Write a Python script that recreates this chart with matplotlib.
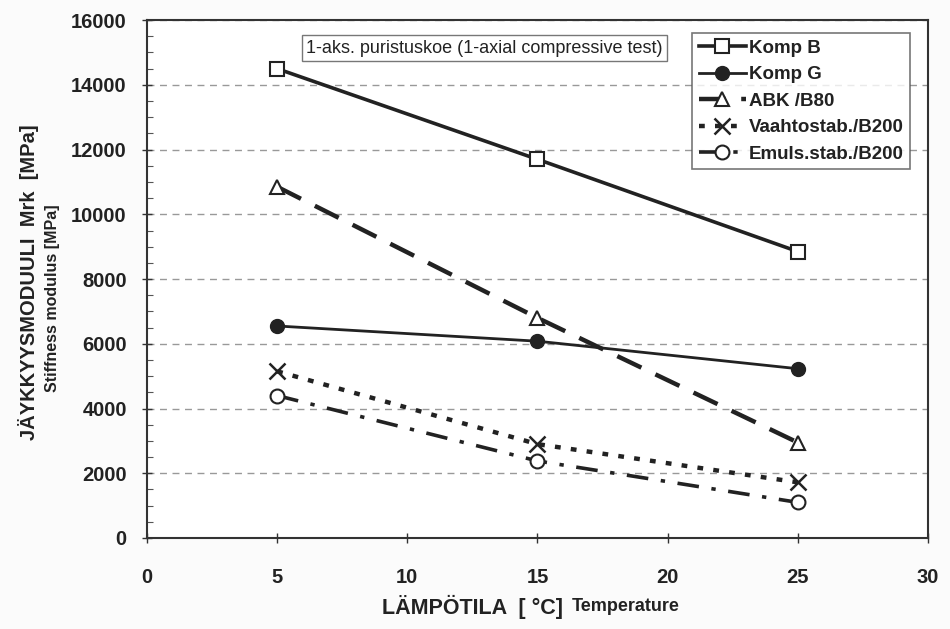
import numpy as np
import matplotlib
matplotlib.use('Agg')
import matplotlib.pyplot as plt
from matplotlib.ticker import MultipleLocator

plt.rcParams['font.family'] = ['Liberation Sans', 'DejaVu Sans']

# Data
temps = [5, 15, 25]
komp_b = [14500, 11700, 8850]
komp_g = [6550, 6080, 5230]
abk_b80 = [10850, 6800, 2950]
vaahto_b200 = [5150, 2900, 1720]
emuls_b200 = [4400, 2380, 1100]

labels = ['Komp B', 'Komp G', 'ABK /B80', 'Vaahtostab./B200', 'Emuls.stab./B200']

fig = plt.figure(figsize=(9.5, 6.29), dpi=100)
fig.patch.set_facecolor('#fbfbfb')
ax = fig.add_axes([0.1547, 0.1447, 0.9768 - 0.1547, 0.968 - 0.1447])
ax.set_facecolor('white')

col = '#222222'
ax.plot(temps, komp_b, color=col, lw=2.6, marker='s', ms=10, mfc='white',
        mec=col, mew=1.5, label=labels[0], zorder=5)
ax.plot(temps, komp_g, color=col, lw=2.0, marker='o', ms=10, mfc=col,
        mec=col, label=labels[1], zorder=5)
ax.plot(temps, abk_b80, color=col, lw=3.2, ls=(0, (6, 3.5)), marker='^', ms=10,
        mfc='white', mec=col, mew=1.5, label=labels[2], zorder=5)
ax.plot(temps, vaahto_b200, color=col, lw=3.2, ls=(0, (1.3, 2.3)), marker='x', ms=11,
        mew=1.8, mec=col, label=labels[3], zorder=5)
ax.plot(temps, emuls_b200, color=col, lw=2.6, ls=(0, (6, 3.5, 1.2, 3.5)), marker='o',
        ms=10, mfc='white', mec=col, mew=1.5, label=labels[4], zorder=5)

ax.set_xlim(0, 30)
ax.set_ylim(0, 16000)
ax.xaxis.set_major_locator(MultipleLocator(5))
ax.yaxis.set_major_locator(MultipleLocator(2000))
ax.yaxis.set_minor_locator(MultipleLocator(500))
ax.yaxis.grid(True, which='major', color='#999999', ls=(0, (5, 4)), lw=1.0)
ax.set_axisbelow(True)

for s in ax.spines.values():
    s.set_color('#333333')
    s.set_linewidth(1.5)

ax.tick_params(axis='both', which='major', direction='inout', length=7, width=1,
               labelsize=14.5, colors='#333333', labelcolor='#222222')
ax.tick_params(axis='y', which='minor', direction='in', length=4, width=0.8,
               colors='#555555')
ax.tick_params(axis='x', pad=18)
ax.tick_params(axis='y', pad=11)
for t in ax.get_xticklabels() + ax.get_yticklabels():
    t.set_fontweight('bold')

# axis titles
fig.text(0.593, 0.035, 'LÄMPÖTILA  [ °C]', ha='right', va='center', fontsize=15.5,
         fontweight='bold', color='#222222')
fig.text(0.602, 0.035, 'Temperature', ha='left', va='center', fontsize=13,
         fontweight='bold', color='#222222')
fig.text(0.030, 0.551, 'JÄYKKYYSMODUULI  Mrk  [MPa]', ha='center', va='center',
         rotation=90, fontsize=14.5, fontweight='bold', color='#222222')
fig.text(0.055, 0.526, 'Stiffness modulus [MPa]', ha='center', va='center',
         rotation=90, fontsize=11.5, fontweight='bold', color='#222222')

ax.text(0.204, 0.946, '1-aks. puristuskoe (1-axial compressive test)',
        transform=ax.transAxes, ha='left', va='center', fontsize=13, color='#222222',
        bbox=dict(boxstyle='square,pad=0.25', fc='white', ec='#777777', lw=1))

leg = ax.legend(loc='upper right', bbox_to_anchor=(0.977, 0.975),
                prop={'weight': 'bold', 'size': 13.5}, frameon=True, fancybox=False,
                edgecolor='#555555', handlelength=2.5, handletextpad=0.15,
                labelspacing=0.5, borderpad=0.35, borderaxespad=0)
leg.get_frame().set_linewidth(1.2)
for t in leg.get_texts():
    t.set_color('#222222')

plt.savefig('out.png', dpi=100, facecolor=fig.get_facecolor())
